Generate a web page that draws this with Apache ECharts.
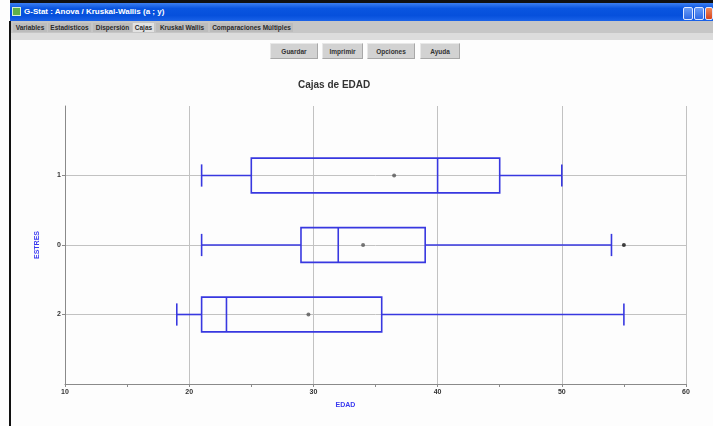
<!DOCTYPE html>
<html>
<head>
<meta charset="utf-8">
<script src="https://cdn.jsdelivr.net/npm/echarts@6/dist/echarts.min.js"></script>
<style>
  html, body { margin: 0; padding: 0; background: #fdfdfd; overflow: hidden; }
  body { width: 713px; height: 426px; position: relative; font-family: 'Liberation Sans', Arial, sans-serif; }
  .abs { position: absolute; }
  #topline { left: 10px; top: 0; width: 703px; height: 3px; background: #111; }
  #titlebar { left: 10px; top: 3px; width: 703px; height: 18px;
    background: linear-gradient(to bottom, #3d7ff0 0%, #0a55e0 30%, #0650dc 70%, #1a62e8 100%); }
  #titlebar .txt { left: 14px; top: 4px; color: #fff; font-size: 8px; font-weight: bold; white-space: nowrap; }
  #titlebar .ico { left: 2px; top: 4px; width: 9px; height: 9px; background: #5fb04a; border: 1px solid #d8f0d0; box-sizing: border-box; }
  .wbtn { top: 4px; width: 10px; height: 13px; border: 1px solid #dfe8ff; box-sizing: border-box; border-radius: 2px;
    background: linear-gradient(#6a9cf5, #2e6ae6); }
  #leftline { left: 9px; top: 21px; width: 2px; height: 405px; background: #111; }
  #tabrow { left: 11px; top: 21px; width: 702px; height: 12px; background: #c6c6c6; }
  #strip { left: 11px; top: 33px; width: 702px; height: 7px; background: #dcdcdc; }
  .tab { top: 23px; height: 9px; font-size: 6.5px; font-weight: bold; color: #2a2a2a; line-height: 9px;
    white-space: nowrap; background: #bcbcbc; text-align: center; }
  .tab.sel { background: #e2e2e2; }
  .btn { top: 43px; height: 16px; font-size: 6.5px; font-weight: bold; color: #333; line-height: 16px; text-align: center;
    background: #d2d2d2; border: 1px solid #e8e8e8; border-right-color: #a8a8a8; border-bottom-color: #a8a8a8; box-sizing: border-box; }
  #main { position: absolute; left: 0; top: 0; width: 713px; height: 426px; }
</style>
</head>
<body>
<div class="abs" id="topline"></div>
<div class="abs" id="titlebar">
  <div class="abs ico"></div>
  <div class="abs txt">G-Stat : Anova / Kruskal-Wallis (a ; y)</div>
  <div class="abs wbtn" style="left:673px"></div>
  <div class="abs wbtn" style="left:684px"></div>
  <div class="abs wbtn" style="left:695px;width:8px;background:linear-gradient(#f08a5a,#d8441c)"></div>
</div>
<div class="abs" id="leftline"></div>
<div class="abs" id="tabrow"></div>
<div class="abs" id="strip"></div>
<div class="abs tab" style="left:13px;width:34px">Variables</div>
<div class="abs tab" style="left:48px;width:43px">Estadísticos</div>
<div class="abs tab" style="left:93px;width:39px">Dispersión</div>
<div class="abs tab sel" style="left:133px;width:21px">Cajas</div>
<div class="abs tab" style="left:156px;width:52px">Kruskal Wallis</div>
<div class="abs tab" style="left:210px;width:83px">Comparaciones Múltiples</div>
<div class="abs btn" style="left:270px;width:48px">Guardar</div>
<div class="abs btn" style="left:322px;width:41px">Imprimir</div>
<div class="abs btn" style="left:367px;width:48px">Opciones</div>
<div class="abs btn" style="left:420px;width:40px">Ayuda</div>
<div id="main"></div>
<script>
// eje de categorias (con huecos arriba y abajo, como en el original)
var categorias = ['', '2', '0', '1', ''];
var grupos = ['2', '0', '1'];
var minimos = [19, 21, 21];
var cuartil1 = [21, 29, 25];
var medianas = [23, 32, 40];
var cuartil3 = [35.5, 39, 45];
var maximos = [55, 54, 50];
var medias = [29.6, 34, 36.5];
var atipicosGrupo = ['0'];
var atipicosValor = [55];
var ticksEdad = [10, 20, 30, 40, 50, 60];

var azul = '#3838e0';
var gris = '#c2c2c2';

var cajas = grupos.map(function (g, i) {
    return [categorias.indexOf(g), minimos[i], cuartil1[i], medianas[i], cuartil3[i], maximos[i]];
});
var puntosMedia = grupos.map(function (g, i) { return [medias[i], g]; });
var puntosAtipicos = atipicosGrupo.map(function (g, i) { return [atipicosValor[i], g]; });

function renderCaja(params, api) {
    var cat = api.value(0);
    var pMin = api.coord([api.value(1), cat]);
    var pQ1 = api.coord([api.value(2), cat]);
    var pMed = api.coord([api.value(3), cat]);
    var pQ3 = api.coord([api.value(4), cat]);
    var pMax = api.coord([api.value(5), cat]);
    var band = api.size([0, 1])[1];
    var h = band * 0.5, c = band * 0.32;
    var y = pMed[1];
    var st = { stroke: azul, lineWidth: 1.6, fill: null };
    function linea(x1, y1, x2, y2) {
        return { type: 'line', shape: { x1: x1, y1: y1, x2: x2, y2: y2 }, style: st };
    }
    return {
        type: 'group',
        children: [
            { type: 'rect', shape: { x: pQ1[0], y: y - h / 2, width: pQ3[0] - pQ1[0], height: h }, style: { stroke: azul, lineWidth: 1.6, fill: 'rgba(255,255,255,0)' } },
            linea(pMed[0], y - h / 2, pMed[0], y + h / 2),
            linea(pMin[0], y, pQ1[0], y),
            linea(pQ3[0], y, pMax[0], y),
            linea(pMin[0], y - c / 2, pMin[0], y + c / 2),
            linea(pMax[0], y - c / 2, pMax[0], y + c / 2)
        ]
    };
}

var myChart = echarts.init(document.getElementById('main'));
var txt = { fontFamily: 'Liberation Sans', fontWeight: 'bold', fontSize: 7, color: '#333' };
var option = {
    animation: false,
    title: {
        text: 'Cajas de EDAD',
        left: 298, top: 80, padding: 0,
        textStyle: { fontFamily: 'Liberation Sans', fontWeight: 'bold', fontSize: 10, color: '#333' }
    },
    grid: { left: 65, right: 27, top: 106, bottom: 42, containLabel: false },
    xAxis: {
        type: 'value', min: ticksEdad[0], max: ticksEdad[ticksEdad.length - 1], interval: 10,
        name: 'EDAD', nameLocation: 'middle', nameGap: 18,
        nameTextStyle: { fontFamily: 'Liberation Sans', fontWeight: 'bold', fontSize: 7, color: '#3a3af0', padding: [0, 60, 0, 0] },
        axisLine: { show: true, lineStyle: { color: '#8a8a8a', width: 1 } },
        axisTick: { show: true, length: 3, lineStyle: { color: '#8a8a8a' } },
        minorTick: { show: true, splitNumber: 2, length: 3, lineStyle: { color: '#8a8a8a' } },
        axisLabel: Object.assign({ margin: 5 }, txt),
        splitLine: { show: true, lineStyle: { color: gris, width: 1 } }
    },
    yAxis: {
        type: 'category', data: categorias, boundaryGap: false,
        name: 'ESTRES', nameLocation: 'middle', nameGap: 24, nameRotate: 90,
        nameTextStyle: { fontFamily: 'Liberation Sans', fontWeight: 'bold', fontSize: 7, color: '#3a3af0' },
        axisLine: { show: true, lineStyle: { color: '#8a8a8a', width: 1 } },
        axisTick: { show: true, length: 3, interval: function (i) { return i > 0 && i < categorias.length - 1; }, lineStyle: { color: '#8a8a8a' } },
        axisLabel: Object.assign({ margin: 4, interval: 0 }, txt),
        splitLine: { show: true, interval: function (i) { return i > 0 && i < categorias.length - 1; }, lineStyle: { color: gris, width: 1 } }
    },
    series: [
        {
            type: 'custom',
            renderItem: renderCaja,
            encode: { x: [1, 2, 3, 4, 5], y: 0 },
            data: cajas,
            z: 3
        },
        {
            type: 'scatter', data: puntosMedia, symbol: 'circle', symbolSize: 4,
            itemStyle: { color: '#555' }, z: 4
        },
        {
            type: 'scatter', data: puntosAtipicos, symbol: 'circle', symbolSize: 4,
            itemStyle: { color: '#111' }, z: 4
        }
    ]
};
myChart.setOption(option, true);
window.onresize = myChart.resize;
</script>
</body>
</html>
